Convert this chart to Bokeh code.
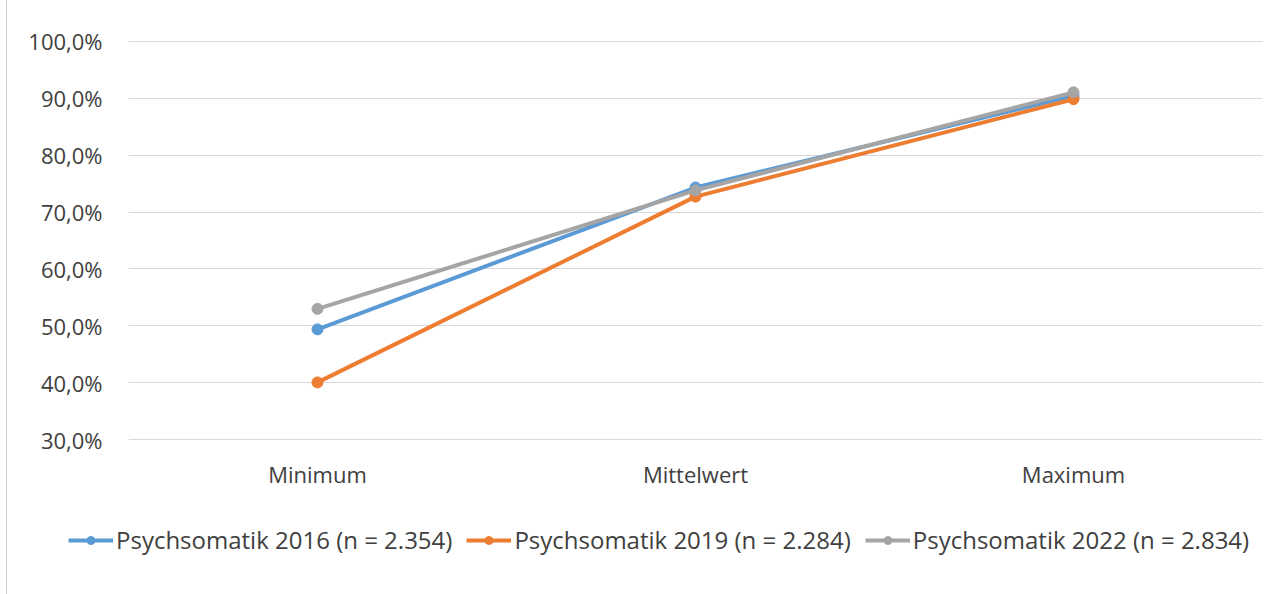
from bokeh.plotting import figure
from bokeh.layouts import column
from bokeh.models import FactorRange, Range1d, CustomJSTickFormatter, Legend, LegendItem, FixedTicker
from bokeh.embed import file_html
from bokeh.resources import INLINE

categories = ["Minimum", "Mittelwert", "Maximum"]
series_names = ["Psychsomatik 2016 (n = 2.354)", "Psychsomatik 2019 (n = 2.284)", "Psychsomatik 2022 (n = 2.834)"]
vals_2016 = [49.4, 74.3, 90.4]
vals_2019 = [40.1, 72.7, 89.8]
vals_2022 = [53.0, 73.8, 91.0]
colors = ["#5B9BD5", "#ED7D31", "#A5A5A5"]
y_ticks = [30, 40, 50, 60, 70, 80, 90, 100]

font = "Open Sans"
text_color = "#404040"

p = figure(width=1268, height=491, x_range=FactorRange(*categories, range_padding=0),
           y_range=Range1d(29.9, 100.1), output_backend="svg", toolbar_location=None,
           min_border_left=121, min_border_right=13, min_border_top=40, min_border_bottom=31)
p.frame_align = False
p.outline_line_color = None
p.background_fill_color = "white"
p.border_fill_color = "white"

p.xgrid.grid_line_color = None
p.ygrid.grid_line_color = "#d9d9d9"
p.ygrid.grid_line_width = 1

p.yaxis.ticker = FixedTicker(ticks=y_ticks)
p.yaxis.formatter = CustomJSTickFormatter(code="return tick.toFixed(1).replace('.', ',') + '%';")
p.yaxis.axis_line_color = None
p.yaxis.major_tick_line_color = None
p.yaxis.minor_tick_line_color = None
p.yaxis.major_label_text_font = font
p.yaxis.major_label_text_font_size = "22px"
p.yaxis.major_label_text_color = text_color
p.yaxis.major_label_standoff = 20

p.xaxis.axis_line_color = None
p.xaxis.major_tick_line_color = None
p.xaxis.minor_tick_line_color = None
p.xaxis.major_label_text_font = font
p.xaxis.major_label_text_font_size = "22px"
p.xaxis.major_label_text_color = text_color
p.xaxis.major_label_standoff = 12

all_vals = [vals_2016, vals_2019, vals_2022]
for vals, c in zip(all_vals, colors):
    p.line(categories, vals, line_color=c, line_width=4)
    p.scatter(categories, vals, size=11, fill_color=c, line_color=c)

# legend strip (series drawn again out of its visible y-range, only the legend shows)
p2 = figure(width=1268, height=103, x_range=FactorRange(*categories, range_padding=0),
            y_range=Range1d(0, 1), output_backend="svg", toolbar_location=None,
            x_axis_location=None, y_axis_location=None,
            min_border_left=0, min_border_right=0, min_border_top=0, min_border_bottom=0)
p2.frame_align = False
p2.outline_line_color = None
p2.grid.grid_line_color = None
p2.border_fill_color = "white"

items = []
for name, vals, c in zip(series_names, all_vals, colors):
    l = p2.line(categories, vals, line_color=c, line_width=4)
    s = p2.scatter(categories, vals, size=9, fill_color=c, line_color=c)
    items.append(LegendItem(label=name, renderers=[l, s]))

legend = Legend(items=items, orientation="horizontal", location=(61, 38),
                label_text_font=font, label_text_font_size="24px", label_text_color=text_color,
                glyph_width=45, glyph_height=20, label_standoff=3, spacing=14, padding=0, margin=0,
                border_line_color=None, background_fill_alpha=0)
p2.add_layout(legend, "center")

layout = column(p, p2, spacing=0,
                styles={"border-left": "1px solid #d0d0d0", "margin-left": "6px"})
open("out.html", "w").write(file_html(layout, INLINE))
